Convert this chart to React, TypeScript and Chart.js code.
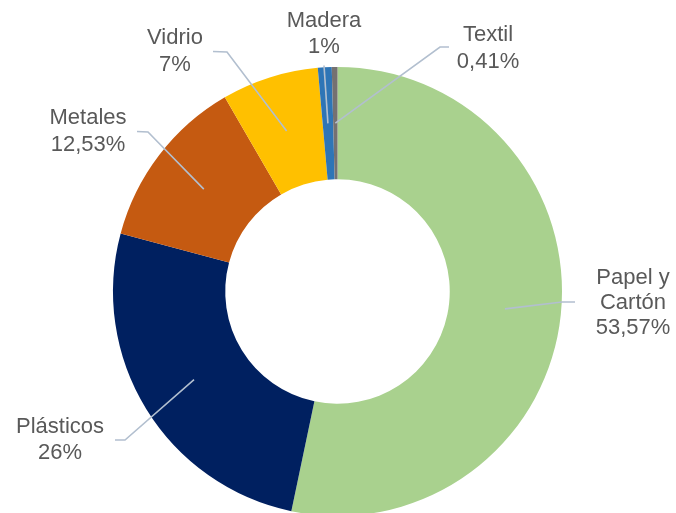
import React, { useEffect, useRef } from "react";
import { Chart, registerables } from "chart.js";

Chart.register(...registerables);

const categories = ["Papel y Cartón", "Plásticos", "Metales", "Vidrio", "Madera", "Textil"];
const values = [53.57, 26, 12.53, 7, 1, 0.41];
const valueLabels = ["53,57%", "26%", "12,53%", "7%", "1%", "0,41%"];
const labelLines = [["Papel y", "Cartón", "53,57%"], ["Plásticos", "26%"], ["Metales", "12,53%"], ["Vidrio", "7%"], ["Madera", "1%"], ["Textil", "0,41%"]];
const colors = ["#a9d18e", "#002060", "#c55a11", "#ffc000", "#2e75b6", "#757171"];

// label layout relative to the doughnut centre: elbow, leader end, text centre & first-line y
const labelLayout = [
  { ex: 224.5, ey: 10.5, lx: 237.5, ly: 10.5, tx: 295.5, ty: -13.5, lh: 25 },
  { ex: -212.5, ey: 148.5, lx: -222.5, ly: 148.5, tx: -277.5, ty: 135.5, lh: 26 },
  { ex: -189.5, ey: -159.5, lx: -200.5, ly: -160, tx: -249.5, ty: -173.5, lh: 27 },
  { ex: -110.5, ey: -239.5, lx: -124.5, ly: -240, tx: -162.5, ty: -253.5, lh: 27 },
  { ex: -13.5, ey: -226, lx: -13.5, ly: -226, tx: -13.5, ty: -270.5, lh: 26 },
  { ex: 102.5, ey: -244.5, lx: 111.5, ly: -244.5, tx: 150.5, ty: -256.5, lh: 27 },
];

const labelPlugin = {
  id: "outerLabels",
  afterDatasetsDraw(chart: any) {
    const ctx = chart.ctx;
    const meta = chart.getDatasetMeta(0);
    ctx.save();
    meta.data.forEach((arc: any, i: number) => {
      const p = arc.getProps(["x", "y", "startAngle", "endAngle", "innerRadius", "outerRadius"], true);
      const mid = (p.startAngle + p.endAngle) / 2;
      const r = (p.innerRadius + p.outerRadius) / 2;
      const sx = p.x + Math.cos(mid) * r;
      const sy = p.y + Math.sin(mid) * r;
      const L = labelLayout[i];
      ctx.strokeStyle = "#b2bfcf";
      ctx.lineWidth = 1.6;
      ctx.beginPath();
      ctx.moveTo(sx, sy);
      ctx.lineTo(p.x + L.ex, p.y + L.ey);
      ctx.lineTo(p.x + L.lx, p.y + L.ly);
      ctx.stroke();
      ctx.fillStyle = "#595959";
      ctx.font = '22px "Liberation Sans", Arial, sans-serif';
      ctx.textAlign = "center";
      ctx.textBaseline = "middle";
      labelLines[i].forEach((t, k) => {
        ctx.fillText(t, p.x + L.tx, p.y + L.ty + k * L.lh);
      });
    });
    ctx.restore();
  },
};

export default function App() {
  const ref = useRef<HTMLCanvasElement | null>(null);
  useEffect(() => {
    if (!ref.current) return;
    const chart = new Chart(ref.current, {
      type: "doughnut",
      data: {
        labels: categories,
        datasets: [
          {
            data: values,
            backgroundColor: colors,
            borderWidth: 0,
          },
        ],
      },
      options: {
        responsive: false,
        animation: false,
        cutout: "50%",
        layout: { padding: { left: 113, right: 114, top: 67, bottom: 14 } },
        plugins: {
          legend: { display: false },
          tooltip: { enabled: false },
        },
      },
      plugins: [labelPlugin],
    });
    return () => chart.destroy();
  }, []);
  return (
    <div style={{ position: "fixed", left: 0, top: 0, width: 676, height: 513, overflow: "hidden", background: "#fff" }}>
      <canvas ref={ref} width={676} height={530} style={{ display: "block", width: 676, height: 530 }} />
    </div>
  );
}
